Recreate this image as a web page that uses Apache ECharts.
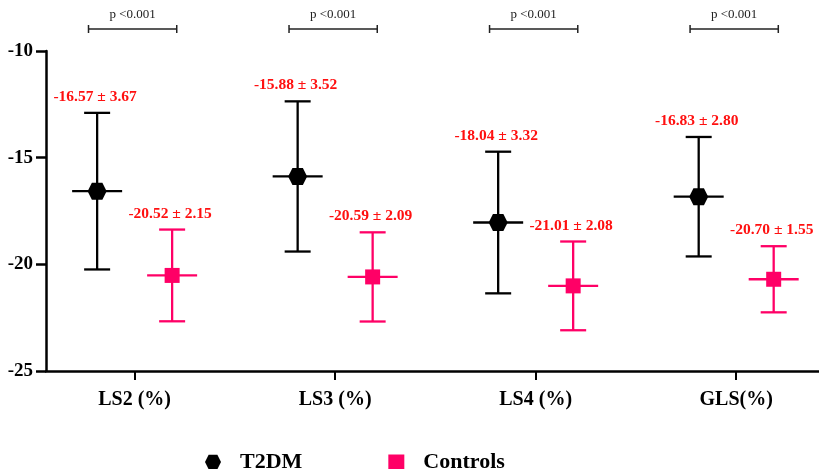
<!DOCTYPE html>
<html>
<head>
<meta charset="utf-8">
<script src="https://cdn.jsdelivr.net/npm/echarts@6/dist/echarts.min.js"></script>
<style>html,body{margin:0;padding:0;background:#fff}#c{width:819px;height:469px}</style>
</head>
<body>
<div id="c"></div>
<script>
var categories = ['LS2 (%)', 'LS3 (%)', 'LS4 (%)', 'GLS(%)'];
var t2dmMean = [-16.57, -15.88, -18.04, -16.83];
var t2dmSD = [3.67, 3.52, 3.32, 2.80];
var ctrlMean = [-20.52, -20.59, -21.01, -20.70];
var ctrlSD = [2.15, 2.09, 2.08, 1.55];
var pLabels = ['p <0.001', 'p <0.001', 'p <0.001', 'p <0.001'];

var FONT = '"Liberation Serif","Times New Roman",serif';
var PINK = '#ff0066';
var RED = '#ff1010';
var OFF = 0.187;
var HEX = 'path://M-1,0 L-0.55,-0.9 L0.55,-0.9 L1,0 L0.55,0.9 L-0.55,0.9 Z';

function pos(i) { return i + 1; }

function errData(means, sds, off) {
  return means.map(function (m, i) { return [pos(i) + off, m, sds[i]]; });
}

function errRender(color) {
  return function (params, api) {
    var x = api.value(0), m = api.value(1), s = api.value(2);
    var top = api.coord([x, m + s]);
    var bot = api.coord([x, m - s]);
    var mid = api.coord([x, m]);
    var st = { stroke: color, lineWidth: 2.3 };
    var label = m.toFixed(2) + ' \u00b1 ' + s.toFixed(2);
    return {
      type: 'group',
      children: [
        { type: 'line', shape: { x1: top[0], y1: top[1], x2: bot[0], y2: bot[1] }, style: st },
        { type: 'line', shape: { x1: top[0] - 13, y1: top[1], x2: top[0] + 13, y2: top[1] }, style: st },
        { type: 'line', shape: { x1: bot[0] - 13, y1: bot[1], x2: bot[0] + 13, y2: bot[1] }, style: st },
        { type: 'line', shape: { x1: mid[0] - 25, y1: mid[1], x2: mid[0] + 25, y2: mid[1] }, style: st },
        { type: 'text', x: top[0] - 2, y: top[1] - 16,
          style: { text: label, fill: RED, fontFamily: FONT, fontWeight: 'bold', fontSize: 15.5, align: 'center', verticalAlign: 'middle' } }
      ]
    };
  };
}

var bracketData = pLabels.map(function (p, i) { return [pos(i), p]; });

var chart = echarts.init(document.getElementById('c'), null, { renderer: 'canvas' });
chart.setOption({
  animation: false,
  backgroundColor: '#fff',
  grid: { left: 46, right: 0, top: 51, bottom: 98, containLabel: false },
  xAxis: {
    type: 'value', min: 0.558, max: 4.413,
    splitLine: { show: false },
    axisLine: { show: true, onZero: false, lineStyle: { color: '#000', width: 2.5 } },
    axisTick: { show: true, length: 9, customValues: [1, 2, 3, 4], lineStyle: { color: '#000', width: 2 } },
    axisLabel: {
      customValues: [1, 2, 3, 4], margin: 19,
      formatter: function (v) { return categories[Math.round(v) - 1] || ''; },
      color: '#000', fontFamily: FONT, fontWeight: 'bold', fontSize: 20
    }
  },
  yAxis: {
    type: 'value', min: -25, max: -10, interval: 5,
    splitLine: { show: false },
    axisLine: { show: true, lineStyle: { color: '#000', width: 2.5 } },
    axisTick: { show: true, length: 10, lineStyle: { color: '#000', width: 2.5 } },
    axisLabel: { color: '#000', fontFamily: FONT, fontWeight: 'bold', fontSize: 19, margin: 13 }
  },
  legend: {
    top: 446, left: 200, itemGap: 86, itemWidth: 16, itemHeight: 15,
    data: [{ name: 'T2DM', icon: HEX }, { name: 'Controls', icon: 'rect' }],
    textStyle: { color: '#000', fontFamily: FONT, fontWeight: 'bold', fontSize: 22, padding: [0, 0, 0, 14] }
  },
  series: [
    { type: 'custom', name: 'T2DM err', data: errData(t2dmMean, t2dmSD, -OFF), renderItem: errRender('#000'), z: 2, silent: true },
    { type: 'custom', name: 'Controls err', data: errData(ctrlMean, ctrlSD, OFF), renderItem: errRender(PINK), z: 2, silent: true },
    { type: 'scatter', name: 'T2DM', symbol: HEX, symbolSize: [19, 17], itemStyle: { color: '#000', opacity: 1 },
      data: t2dmMean.map(function (m, i) { return [pos(i) - OFF, m]; }), z: 3 },
    { type: 'scatter', name: 'Controls', symbol: 'rect', symbolSize: 15, itemStyle: { color: PINK, opacity: 1 },
      data: ctrlMean.map(function (m, i) { return [pos(i) + OFF, m]; }), z: 3 },
    { type: 'custom', name: 'p', data: bracketData, silent: true, clip: false,
      renderItem: function (params, api) {
        var x = api.value(0);
        var c = api.coord([x, -10]);
        var a = api.coord([x - 0.23, -10])[0];
        var b = api.coord([x + 0.21, -10])[0];
        var y = c[1] - 22;
        var st = { stroke: '#222', lineWidth: 1.5 };
        return {
          type: 'group',
          children: [
            { type: 'line', shape: { x1: a, y1: y, x2: b, y2: y }, style: st },
            { type: 'line', shape: { x1: a, y1: y - 4, x2: a, y2: y + 4 }, style: st },
            { type: 'line', shape: { x1: b, y1: y - 4, x2: b, y2: y + 4 }, style: st },
            { type: 'text', x: (a + b) / 2, y: y - 14,
              style: { text: pLabels[params.dataIndex], fill: '#222', fontFamily: FONT, fontSize: 13, align: 'center', verticalAlign: 'middle' } }
          ]
        };
      }
    }
  ]
});
</script>
</body>
</html>
